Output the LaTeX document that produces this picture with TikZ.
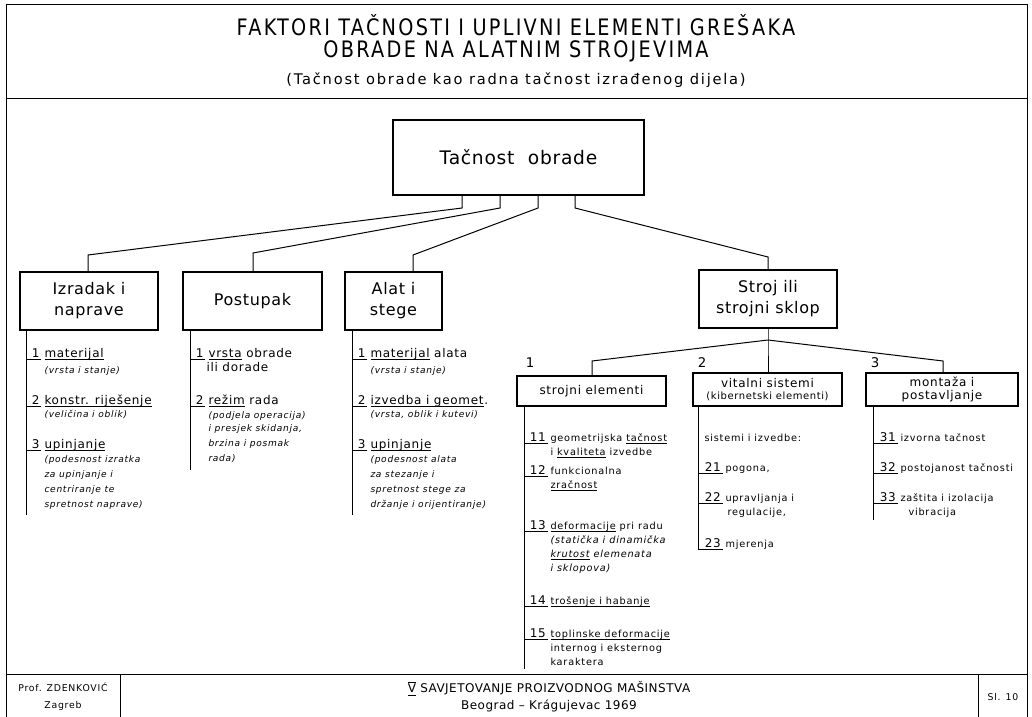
\documentclass[tikz,border=0pt]{standalone}
\usepackage{fontspec}
\setmainfont{DejaVu Sans}
\newfontfamily\ttlfont[FakeStretch=0.85,LetterSpace=10]{DejaVu Sans}
\newfontfamily\subfont[LetterSpace=12]{DejaVu Sans}
\newfontfamily\boxfont[LetterSpace=4]{DejaVu Sans}
\newfontfamily\lstfont[LetterSpace=6]{DejaVu Sans}
\newfontfamily\notefont[LetterSpace=8]{DejaVu Sans}
% underline at a fixed depth
\newcommand{\undl}[1]{\setbox0\hbox{#1}\rlap{\rule[-2.1pt]{\wd0}{0.6pt}}#1}

\tikzset{every picture/.style={line width=0.75pt}}
\tikzset{
  box/.style={draw, line width=1pt, align=center, inner sep=0pt},
  bigtxt/.style={font=\boxfont\fontsize{12}{15.75}\selectfont},
  subtxt/.style={font=\lstfont\fontsize{9}{10.5}\selectfont},
  ttl/.style={inner sep=0pt, font=\ttlfont\fontsize{17}{20}\selectfont},
  num/.style={anchor=base west, inner xsep=1pt, inner ysep=0pt, text depth=1.8pt, font=\lstfont\fontsize{9}{10}\selectfont},
  itm/.style={anchor=base west, inner sep=0pt, font=\lstfont\fontsize{9}{10}\selectfont},
  note/.style={anchor=base west, inner sep=0pt, font=\notefont\fontsize{6.8}{8}\selectfont\itshape},
  sitm/.style={anchor=base west, inner sep=0pt, font=\notefont\fontsize{7.3}{8}\selectfont},
  sital/.style={sitm, font=\notefont\fontsize{7.3}{8}\selectfont\itshape},
}

\begin{document}
\begin{tikzpicture}[x=0.75pt,y=0.75pt,yscale=-1,xscale=1]
	\useasboundingbox (0,0) rectangle (1032,717);

	%Shape: Frame
	\draw (6,717) -- (6,5) -- (1027,5) -- (1027,717);
	\draw (6,99) -- (1027,99);
	\draw (6,674) -- (1027,674);
	\draw (120,674) -- (120,717);
	\draw (978,674) -- (978,717);

	% Title
	\node[ttl, anchor=base] (ttl1) at (516,36) {FAKTORI TAČNOSTI I UPLIVNI ELEMENTI GREŠAKA};
	\node[ttl, anchor=base] (ttl2) at (516,58) {OBRADE NA ALATNIM STROJEVIMA};
	\node[inner sep=0pt, font=\subfont\fontsize{11}{12}\selectfont] (ttl3) at (516,80) {(Tačnost obrade kao radna tačnost izrađenog dijela)};

	% Boxes
	\node[box, minimum width=188.25pt, minimum height=56.25pt, font=\boxfont\fontsize{14}{16}\selectfont] (tac) at (518.5,157.5) {Tačnost\ \ obrade};
	\node[box, bigtxt, minimum width=103.5pt, minimum height=43.5pt] (izr) at (89,301) {Izradak i\\naprave};
	\node[box, bigtxt, minimum width=104.25pt, minimum height=43.5pt] (pos) at (252.5,301) {Postupak};
	\node[box, bigtxt, minimum width=72.75pt, minimum height=43.5pt] (alt) at (393.5,301) {Alat i\\stege};
	\node[box, bigtxt, minimum width=103.5pt, minimum height=43.5pt] (str) at (768,299) {Stroj ili\\strojni sklop};
	\node[box, subtxt, minimum width=111.75pt, minimum height=22.5pt] (sel) at (591.5,391) {strojni elementi};
	\node[box, subtxt, minimum width=111.75pt, minimum height=24.75pt] (vit) at (767.5,389.5) {vitalni sistemi\\[-2pt]{\fontsize{7.5}{9}\selectfont (kibernetski elementi)}};
	\node[box, subtxt, minimum width=114pt, minimum height=24.75pt] (mon) at (942,389.5) {montaža i\\[-1pt]postavljanje};

	% Connectors
	\coordinate (t1) at (462,208);
	\coordinate (t2) at (500,208);
	\coordinate (t3) at (538,208);
	\coordinate (t4) at (575,208);
	\coordinate (d1) at (88,255);
	\coordinate (d2) at (253,253);
	\coordinate (d3) at (413,255);
	\coordinate (d4) at (768,257);
	\draw (tac.south -| t1) -- (t1) -- (d1) -- (izr.north -| d1);
	\draw (tac.south -| t2) -- (t2) -- (d2) -- (pos.north -| d2);
	\draw (tac.south -| t3) -- (t3) -- (d3) -- (alt.north -| d3);
	\draw (tac.south -| t4) -- (t4) -- (d4) -- (str.north -| d4);

	\coordinate (ap) at (768,340);
	\coordinate (d5) at (592,361);
	\coordinate (d6) at (943,361);
	\draw (str.south -| ap) -- (ap) -- (vit.north -| ap);
	\draw (ap) -- (d5) -- (sel.north -| d5);
	\draw (ap) -- (d6) -- (mon.north -| d6);

	% Text Node
	\node[font=\lstfont\fontsize{10}{12}\selectfont] (k1) at (530,363) {1};
	\node[font=\lstfont\fontsize{10}{12}\selectfont] (k2) at (702,363) {2};
	\node[font=\lstfont\fontsize{10}{12}\selectfont] (k3) at (875,363) {3};

	% Column lines
	\coordinate (c1) at (26,515);
	\coordinate (c2) at (190,470);
	\coordinate (c3) at (352,515);
	\coordinate (c4) at (524,669);
	\coordinate (c5) at (698,550);
	\coordinate (c6) at (873,520);
	\draw (izr.south -| c1) -- (c1);
	\draw (pos.south -| c2) -- (c2);
	\draw (alt.south -| c3) -- (c3);
	\draw (sel.south -| c4) -- (c4);
	\draw (vit.south -| c5) -- (c5);
	\draw (mon.south -| c6) -- (c6);

	% Izradak i naprave
	\node[num] (n11) at (30,357) {1};
	\node[itm] (w11) at (44,357) {\undl{materijal}};
	\node[note] (o11) at (44,373) {(vrsta i stanje)};
	\node[num] (n12) at (30,404) {2};
	\node[itm] (w12) at (44,404) {\undl{konstr. riješenje}};
	\node[note] (o12) at (44,417) {(veličina i oblik)};
	\node[num] (n13) at (30,448) {3};
	\node[itm] (w13) at (44,448) {\undl{upinjanje}};
	\node[note] (o13a) at (44,462) {(podesnost izratka};
	\node[note] (o13b) at (44,477) {za upinjanje i};
	\node[note] (o13c) at (44,492) {centriranje te};
	\node[note] (o13d) at (44,507) {spretnost naprave)};
	\draw (n11.south east) -- (n11.south east -| c1);
	\draw (n12.south east) -- (n12.south east -| c1);
	\draw (n13.south east) -- (n13.south east -| c1);

	% Postupak
	\node[num] (n21) at (194,357) {1};
	\node[itm] (w21) at (208,357) {\undl{vrsta} obrade};
	\node[itm] (w21b) at (206,371) {ili dorade};
	\node[num] (n22) at (194,404) {2};
	\node[itm] (w22) at (208,404) {\undl{režim} rada};
	\node[note] (o22a) at (208,418) {(podjela operacija)};
	\node[note] (o22b) at (208,431) {i presjek skidanja,};
	\node[note] (o22c) at (208,446) {brzina i posmak};
	\node[note] (o22d) at (208,461) {rada)};
	\draw (n21.south east) -- (n21.south east -| c2);
	\draw (n22.south east) -- (n22.south east -| c2);

	% Alat i stege
	\node[num] (n31) at (356,357) {1};
	\node[itm] (w31) at (370,357) {\undl{materijal} alata};
	\node[note] (o31) at (370,373) {(vrsta i stanje)};
	\node[num] (n32) at (356,404) {2};
	\node[itm] (w32) at (370,404) {\undl{izvedba i geomet}.};
	\node[note] (o32) at (370,417) {(vrsta, oblik i kutevi)};
	\node[num] (n33) at (356,448) {3};
	\node[itm] (w33) at (370,448) {\undl{upinjanje}};
	\node[note] (o33a) at (370,462) {(podesnost alata};
	\node[note] (o33b) at (370,477) {za stezanje i};
	\node[note] (o33c) at (370,492) {spretnost stege za};
	\node[note] (o33d) at (370,507) {držanje i orijentiranje)};
	\draw (n31.south east) -- (n31.south east -| c3);
	\draw (n32.south east) -- (n32.south east -| c3);
	\draw (n33.south east) -- (n33.south east -| c3);

	% strojni elementi
	\node[num] (s11) at (528,441) {11};
	\node[sitm] (s11w) at (550,441) {geometrijska \undl{tačnost}};
	\node[sitm] (s11b) at (550,455) {i \undl{kvaliteta} izvedbe};
	\node[num] (s12) at (528,474) {12};
	\node[sitm] (s12w) at (550,474) {funkcionalna};
	\node[sitm] (s12b) at (550,488) {\undl{zračnost}};
	\node[num] (s13) at (528,529) {13};
	\node[sitm] (s13w) at (550,529) {\undl{deformacije} pri radu};
	\node[sital] (s13a) at (550,543) {(statička i dinamička};
	\node[sital] (s13b) at (550,557) {\undl{krutost} elemenata};
	\node[sital] (s13c) at (550,571) {i sklopova)};
	\node[num] (s14) at (528,604) {14};
	\node[sitm] (s14w) at (550,604) {\undl{trošenje i habanje}};
	\node[num] (s15) at (528,637) {15};
	\node[sitm] (s15w) at (550,637) {\undl{toplinske deformacije}};
	\node[sitm] (s15a) at (550,651) {internog i eksternog};
	\node[sitm] (s15b) at (550,665) {karaktera};
	\draw (s11.south east) -- (s11.south east -| c4);
	\draw (s12.south east) -- (s12.south east -| c4);
	\draw (s13.south east) -- (s13.south east -| c4);
	\draw (s14.south east) -- (s14.south east -| c4);
	\draw (s15.south east) -- (s15.south east -| c4);

	% vitalni sistemi
	\node[sitm] (v20) at (704,441) {sistemi i izvedbe:};
	\node[num] (v21) at (703,471) {21};
	\node[sitm] (v21w) at (725,471) {pogona,};
	\node[num] (v22) at (703,501) {22};
	\node[sitm] (v22w) at (725,501) {upravljanja i};
	\node[sitm] (v22b) at (727,515) {regulacije,};
	\node[num] (v23) at (703,547) {23};
	\node[sitm] (v23w) at (725,547) {mjerenja};
	\draw (v21.south east) -- (v21.south east -| c5);
	\draw (v22.south east) -- (v22.south east -| c5);
	\draw (v23.south east) -- (v23.south east -| c5);

	% montaza i postavljanje
	\node[num] (m31) at (878,441) {31};
	\node[sitm] (m31w) at (900,441) {izvorna tačnost};
	\node[num] (m32) at (878,471) {32};
	\node[sitm] (m32w) at (900,471) {postojanost tačnosti};
	\node[num] (m33) at (878,501) {33};
	\node[sitm] (m33w) at (900,501) {zaštita i izolacija};
	\node[sitm] (m33b) at (908,515) {vibracija};
	\draw (m31.south east) -- (m31.south east -| c6);
	\draw (m32.south east) -- (m32.south east -| c6);
	\draw (m33.south east) -- (m33.south east -| c6);

	% Footer
	\node[font=\notefont\fontsize{7}{12.75}\selectfont, align=center] (aut) at (63,697) {Prof. ZDENKOVIĆ\\Zagreb};
	\node[font=\boxfont\fontsize{9}{12.75}\selectfont, align=center] (conf) at (549,697) {\ensuremath{\overline{\underline{\mbox{V}}}} SAVJETOVANJE PROIZVODNOG MAŠINSTVA\\Beograd – Krágujevac 1969};
	\node[font=\notefont\fontsize{7}{9}\selectfont] (slk) at (1003,697) {Sl. 10};

\end{tikzpicture}
\end{document}
